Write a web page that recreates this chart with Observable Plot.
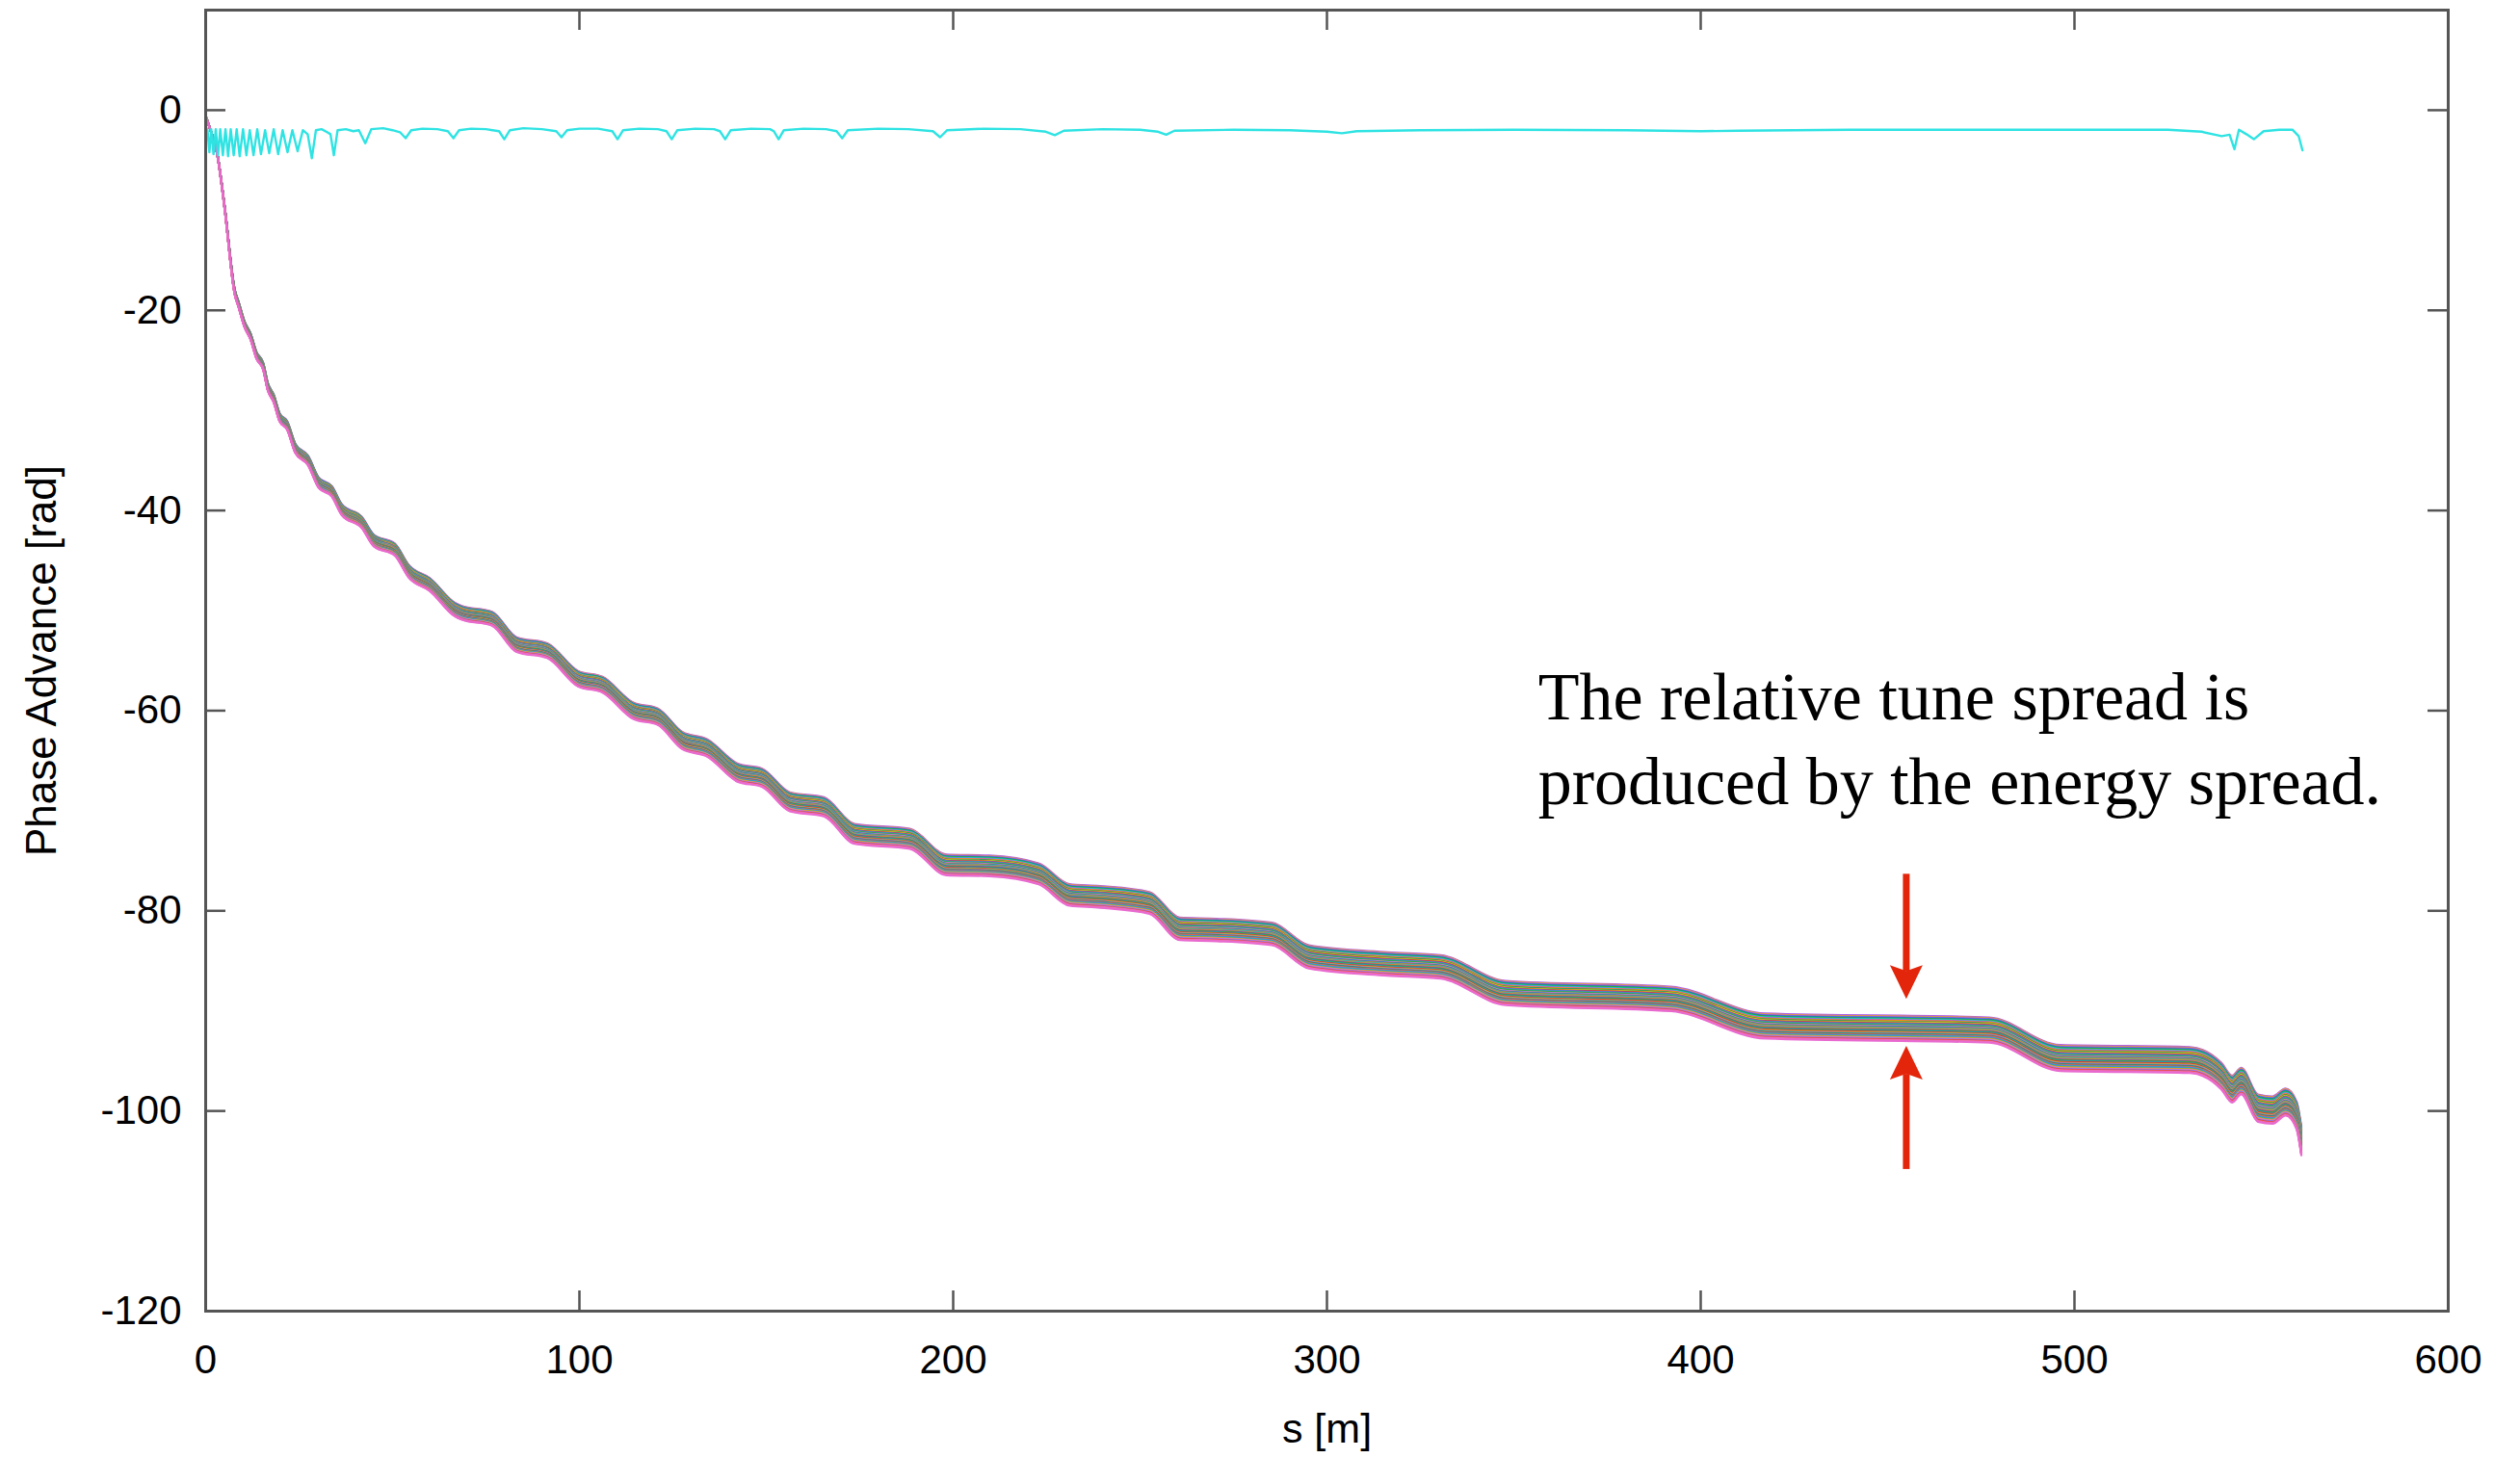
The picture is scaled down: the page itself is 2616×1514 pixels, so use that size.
<!DOCTYPE html>
<html>
<head>
<meta charset="utf-8">
<script src="https://cdn.jsdelivr.net/npm/d3@7"></script>
<script src="https://cdn.jsdelivr.net/npm/@observablehq/plot@0.6"></script>
<style>
html, body { margin: 0; padding: 0; background: #ffffff; }
#chart { width: 2616px; height: 1514px; }
</style>
</head>
<body>
<div id="chart"></div>
<script>
// ---- reference (on-energy) phase advance along the line, s [m] vs rad ----
const baseS = [0, 1.8, 3.0, 5.0, 7.8, 8.8, 10.4, 12.0, 13.6, 15.4, 16.6, 18.2, 19.8, 21.8, 24.0, 27.4, 30.2, 33.8, 36.4, 41.8,
  45.0, 50.6, 54.4, 60.0, 66.7, 68.4, 76.6, 83.2, 91.4, 99.6, 106.2, 114.4, 121.0, 127.6, 134.1, 142.4, 148.9, 156.3, 165.4,
  173.6, 188.4, 198.2, 209.7, 222.9, 231.1, 239.3, 252.5, 260.7, 270.5, 285.3, 295.2, 316.2, 330.4, 347.8, 392.0, 417.3,
  477.2, 496.2, 530.9, 539.3, 542.2, 544.6, 549.1, 553.0, 556.5, 559.4, 560.7];
const baseY = [-0.6, -2.6, -4.2, -9.5, -18.2, -19.4, -21.4, -22.6, -24.5, -25.6, -27.6, -28.8, -30.7, -31.5, -33.8, -35.0, -37.2, -38.1, -39.9, -41.2,
  -43.0, -43.9, -46.1, -47.4, -49.9, -50.2, -50.8, -53.4, -54.0, -56.8, -57.4, -60.0, -60.6, -63.0, -63.7, -66.2, -66.7, -69.1, -69.6,
  -72.3, -72.8, -75.4, -75.5, -76.3, -78.4, -78.6, -79.2, -81.8, -81.9, -82.3, -84.6, -85.3, -85.6, -88.2, -88.8, -91.5,
  -91.9, -94.7, -94.9, -96.5, -97.8, -97.0, -99.7, -99.9, -99.1, -100.4, -103.0];

// ---- relative tune deviation of each tracked particle (from the energy spread) ----
const spread = [-0.0136, -0.0127, -0.0119, -0.0110, -0.0103, -0.0094, -0.0086, -0.0079, -0.0070, -0.0063, -0.0054, -0.0047,
  -0.0039, -0.0031, -0.0023, -0.0015, -0.0007, 0.0002, 0.0010, 0.0018, 0.0026, 0.0034, 0.0041, 0.0050, 0.0057, 0.0066,
  0.0073, 0.0082, 0.0089, 0.0098, 0.0106, 0.0114, 0.0122, 0.0130, 0.0138];
const bandColors = ["#b060e8", "#e8a030", "#9a5ce6", "#1f77d4", "#2cb02c", "#17c6d8", "#b05ae0", "#ff8a0e", "#0b9a6f",
  "#c8c822", "#e03030", "#5b6fe6", "#3aa0a0", "#2cb02c", "#e377c2", "#1f80d0", "#d0802b", "#17becf", "#ff7f0e", "#7a4dc0",
  "#33b02c", "#1f9bd4", "#e03a28", "#bcbd22", "#9d6ad0", "#0b9a6f", "#f0603a", "#4a8ad8", "#2c9fd0", "#d2b000",
  "#e377c2", "#8c7ae6", "#e84a3a", "#ee6fb0", "#e86ad0"];

// ---- reference particle (cyan) ----
const cyanS = [0.0, 0.5, 1.0, 1.5, 2.1, 2.7, 3.3, 3.9, 4.6, 5.3, 6.0, 6.7, 7.5, 8.3, 9.1, 10.0, 10.9, 11.8, 12.8, 13.8,
  14.8, 15.9, 17.0, 18.2, 19.4, 20.6, 21.9, 23.2, 24.6, 26.0, 27.3, 28.4, 29.5, 31.0, 32.5, 33.4, 34.3, 35.3, 37.5, 39.5,
  41.0, 42.7, 44.3, 47.5, 50.0, 52.0, 53.5, 55.0, 58.0, 62.0, 64.8, 66.3, 67.8, 71.0, 75.0, 78.5, 79.9, 81.4, 85.0, 90.0,
  93.8, 95.2, 96.7, 100.0, 105.0, 108.8, 110.2, 111.7, 116.0, 121.0, 123.3, 124.7, 126.2, 131.0, 136.0, 137.6, 139.0, 140.5,
  146.0, 151.0, 152.0, 153.3, 154.7, 160.0, 166.0, 168.8, 170.3, 171.8, 180.0, 188.0, 194.6, 196.5, 198.4, 208.0, 218.0,
  224.8, 227.2, 229.6, 240.0, 250.0, 254.8, 257.0, 259.2, 275.0, 290.0, 300.0, 304.0, 308.0, 325.0, 350.0, 380.0, 400.0,
  410.0, 440.0, 470.0, 500.0, 525.0, 534.0, 539.4, 541.5, 542.8, 544.0, 546.0, 548.0, 550.6, 554.8, 558.3, 560.0, 561.0];
const cyanY = [-1.6, -2.0, -4.2, -1.9, -4.4, -1.9, -4.5, -1.9, -4.5, -1.9, -4.6, -1.9, -4.5, -1.9, -4.6, -1.9, -4.5, -2.0, -4.5, -1.9,
  -4.4, -2.0, -4.3, -1.9, -4.4, -2.0, -4.2, -2.0, -4.1, -2.0, -2.4, -4.8, -2.0, -1.9, -2.2, -2.4, -4.5, -2.0, -1.9, -2.1,
  -2.0, -3.3, -1.9, -1.8, -2.0, -2.2, -2.8, -2.0, -1.85, -1.9, -2.1, -2.8, -2.0, -1.85, -1.9, -2.1, -2.9, -2.0, -1.8, -1.9,
  -2.1, -2.7, -2.0, -1.85, -1.85, -2.1, -2.9, -2.0, -1.85, -1.9, -2.1, -2.9, -2.0, -1.85, -1.9, -2.1, -2.9, -2.0,
  -1.85, -1.9, -2.1, -2.9, -2.0, -1.85, -1.9, -2.1, -2.8, -2.0, -1.85, -1.9, -2.1, -2.7, -2.0, -1.85, -1.9,
  -2.15, -2.5, -2.05, -1.9, -1.95, -2.15, -2.45, -2.05, -1.95, -2.0, -2.15, -2.3, -2.1, -2.0, -1.95, -2.0, -2.1,
  -2.05, -1.95, -1.95, -1.95, -1.95, -2.15, -2.6, -2.45, -3.9, -1.95, -2.4, -2.9, -2.1, -1.95, -1.95, -2.6, -4.0];

// ---- axes ----
const xTicks = [0, 100, 200, 300, 400, 500, 600];
const yTicks = [0, -20, -40, -60, -80, -100, -120];
const xTitle = "s [m]";
const yTitle = "Phase Advance [rad]";

// ---- annotation ----
const noteLines = ["The relative tune spread is", "produced by the energy spread."];
const noteS = [356.5, 356.5];
const noteY = [-60.9, -69.3];
const arrowS = [455, 455];
const arrowFrom = [-76.3, -105.8];
const arrowTo = [-88.8, -93.5];

// ---- build tables ----
const bandData = [];
spread.forEach((d, i) => {
  baseS.forEach((s, j) => bandData.push({id: i, s, y: baseY[j] * (1 + d), color: bandColors[i % bandColors.length]}));
});
const cyanData = cyanS.map((s, i) => ({s, y: cyanY[i]}));
const notes = noteLines.map((t, i) => ({t, s: noteS[i], y: noteY[i]}));
const arrows = arrowS.map((s, i) => ({s, from: arrowFrom[i], to: arrowTo[i]}));

const W = 2616, H = 1514, ML = 213, MR = 75, MT = 10, MB = 153;
const FW = W - ML - MR, FH = H - MT - MB, TICK = 21;
const frameColor = "#555555";
const red = "#e3260b";

const arrowHead = {
  draw(ctx) {
    const w = 17, h = 35, notch = 6;
    ctx.moveTo(0, 0);
    ctx.lineTo(-w, -h);
    ctx.lineTo(0, -h + notch);
    ctx.lineTo(w, -h);
    ctx.closePath();
  }
};

const chart = Plot.plot({
  width: W, height: H,
  marginLeft: ML, marginRight: MR, marginTop: MT, marginBottom: MB,
  x: {domain: [0, 600]},
  y: {domain: [-120, 10]},
  color: {type: "identity"},
  style: {fontFamily: "'Liberation Sans', Arial, Helvetica, sans-serif", fontSize: "42px", background: "#ffffff", color: "#000000"},
  marks: [
    Plot.line(bandData, {x: "s", y: "y", z: "id", stroke: "color", strokeWidth: 2.2, curve: "monotone-x"}),
    Plot.line(cyanData, {x: "s", y: "y", stroke: "#2fe3e3", strokeWidth: 2.4}),
    Plot.frame({stroke: frameColor, strokeWidth: 3}),
    Plot.ruleX(xTicks, {stroke: frameColor, strokeWidth: 2.5, insetTop: FH - TICK}),
    Plot.ruleX(xTicks, {stroke: frameColor, strokeWidth: 2.5, insetBottom: FH - TICK}),
    Plot.ruleY(yTicks, {stroke: frameColor, strokeWidth: 2.5, insetRight: FW - TICK}),
    Plot.ruleY(yTicks, {stroke: frameColor, strokeWidth: 2.5, insetLeft: FW - TICK}),
    Plot.axisX(xTicks, {tickSize: 0, tickPadding: 35, label: null, tickFormat: d => String(d)}),
    Plot.axisY(yTicks, {tickSize: 0, tickPadding: 25, label: null, tickFormat: d => String(d)}),
    Plot.text([xTitle], {text: d => d, frameAnchor: "bottom", dy: 136, lineAnchor: "bottom", textAnchor: "middle", fontSize: 43}),
    Plot.text([yTitle], {text: d => d, frameAnchor: "left", dx: -156, rotate: -90, lineAnchor: "bottom", textAnchor: "middle", fontSize: 44}),
    Plot.text(notes, {x: "s", y: "y", text: "t", textAnchor: "start", lineAnchor: "bottom", fontSize: 70,
      fontFamily: "'Liberation Serif', 'Times New Roman', serif", fill: "#000000"}),
    Plot.arrow(arrows, {x1: "s", y1: "from", x2: "s", y2: "to", stroke: red, strokeWidth: 7, headLength: 0, insetEnd: 29, strokeLinecap: "butt"}),
    Plot.dot(arrows, {x: "s", y: "to", symbol: arrowHead, rotate: d => (d.to < d.from ? 0 : 180), fill: red, stroke: "none", r: 10})
  ]
});
document.getElementById("chart").appendChild(chart);
</script>
</body>
</html>
